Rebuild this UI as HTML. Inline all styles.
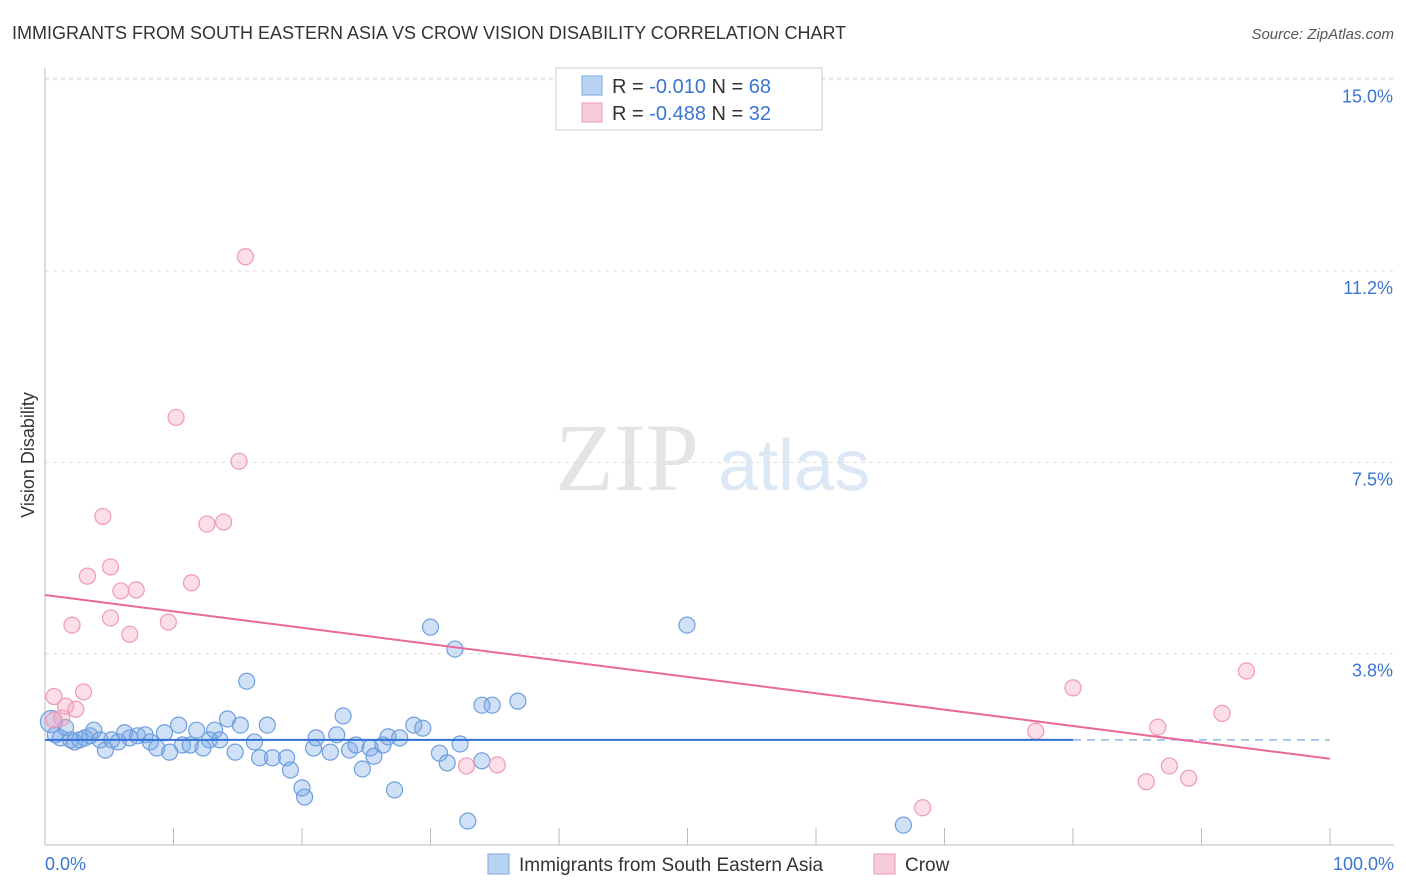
<!DOCTYPE html>
<html><head><meta charset="utf-8"><style>
body{margin:0;background:#fff;font-family:"Liberation Sans",sans-serif;}
#wrap{position:relative;width:1406px;height:892px;overflow:hidden;}
</style></head><body>
<div id="wrap">
<svg id="chart" width="1406" height="892">
<text x="12" y="39" font-size="18" fill="#333">IMMIGRANTS FROM SOUTH EASTERN ASIA VS CROW VISION DISABILITY CORRELATION CHART</text>
<text x="1394" y="39" font-size="15" fill="#555" font-style="italic" text-anchor="end">Source: ZipAtlas.com</text>
<text x="34" y="455" font-size="18" fill="#333" transform="rotate(-90 34 455)" text-anchor="middle">Vision Disability</text>
<text x="555" y="490" font-size="96" fill="#e4e4e4" font-family="Liberation Serif,serif">ZIP</text>
<text x="718" y="490" font-size="72" fill="#dce8f6">atlas</text>
<g id="grid"></g><g id="axes"></g><g id="pts"></g><g id="lines"></g>
<g>
<rect x="556" y="68" width="266" height="62" fill="#fff" stroke="#ccc"/>
<rect x="582" y="76" width="20" height="19" fill="#b9d3f3" stroke="#7aa7e0"/>
<rect x="582" y="103" width="20" height="19" fill="#f9ccdb" stroke="#ee9ab6"/>
<text x="612" y="93" font-size="20" fill="#333">R = <tspan fill="#3a75d0">-0.010</tspan>   N = <tspan fill="#3a75d0">68</tspan></text>
<text x="612" y="120" font-size="20" fill="#333">R = <tspan fill="#3a75d0">-0.488</tspan>   N = <tspan fill="#3a75d0">32</tspan></text>
</g>
<g>
<rect x="488" y="854" width="21" height="20" fill="#b9d3f3" stroke="#7aa7e0"/>
<text x="519" y="871" font-size="19" fill="#333">Immigrants from South Eastern Asia</text>
<rect x="874" y="854" width="21" height="20" fill="#f9ccdb" stroke="#ee9ab6"/>
<text x="905" y="871" font-size="19" fill="#333">Crow</text>
</g>
<text x="45" y="870" font-size="18" fill="#3a75d0">0.0%</text>
<text x="1394" y="870" font-size="18" fill="#3a75d0" text-anchor="end">100.0%</text>
</svg>
</div>
<script>
const yTicks=[15,11.25,7.5,3.75];
const yTickLabels=["15.0%","11.2%","7.5%","3.8%"];
const blueX=[0.5,0.8,1.2,1.6,2.0,2.3,2.7,3.1,3.5,3.8,4.3,4.7,5.2,5.7,6.2,6.6,7.2,7.8,8.2,8.7,9.3,9.7,10.4,10.7,11.3,11.8,12.3,12.8,13.2,13.6,14.2,14.8,15.2,15.7,16.3,16.7,17.3,17.7,18.8,19.1,20.0,20.2,20.9,21.1,22.2,22.7,23.2,23.7,24.2,24.7,25.3,25.6,26.3,26.7,27.2,27.6,28.7,29.4,30.0,30.7,31.3,31.9,32.3,32.9,34.0,34.0,34.8,36.8,49.96,66.8];
const blueY=[2.42,2.16,2.10,2.30,2.06,2.02,2.06,2.10,2.14,2.25,2.06,1.86,2.06,2.02,2.20,2.10,2.14,2.16,2.02,1.90,2.20,1.82,2.35,1.96,1.96,2.25,1.90,2.06,2.25,2.06,2.47,1.82,2.35,3.21,2.02,1.71,2.35,1.71,1.71,1.47,1.12,0.94,1.90,2.10,1.82,2.16,2.53,1.86,1.96,1.49,1.90,1.74,1.96,2.12,1.08,2.10,2.35,2.29,4.27,1.80,1.61,3.84,1.98,0.47,2.74,1.65,2.74,2.82,4.31,0.39];
const pinkX=[15.6,10.2,15.1,4.5,12.6,13.9,5.1,3.3,11.4,5.9,7.1,5.1,2.1,9.6,6.6,0.7,3.0,1.6,2.4,1.3,80.0,93.5,77.1,86.6,91.6,87.5,85.7,89.0,68.3,32.8,35.2,0.7];
const pinkY=[11.53,8.38,7.52,6.44,6.29,6.33,5.45,5.27,5.14,4.98,5.00,4.45,4.31,4.37,4.13,2.91,3.00,2.72,2.66,2.49,3.08,3.41,2.23,2.31,2.58,1.55,1.24,1.31,0.73,1.55,1.57,2.45];
const blueFit=[2.06,2.06]; const pinkFit=[4.90,1.69];
const X=v=>45+v*12.85, Y=v=>845-v*51.02;
const NS="http://www.w3.org/2000/svg";
function mk(t,a,p){const e=document.createElementNS(NS,t);for(const k in a)e.setAttribute(k,a[k]);p.appendChild(e);return e;}
const grid=document.getElementById('grid'),axes=document.getElementById('axes'),pts=document.getElementById('pts'),lines=document.getElementById('lines');
yTicks.forEach((t,i)=>{
 const l=mk('line',{x1:45,x2:1394,y1:Y(t),y2:Y(t),stroke:'#ddd','stroke-dasharray':'4,4'},grid);
 
 
 const tx=mk('text',{x:1393,y:Y(t)+23,'font-size':18,fill:'#3a75d0','text-anchor':'end'},grid);tx.textContent=yTickLabels[i];
 
 
});
const gt=mk('line',{x1:45,x2:1394,y1:78,y2:78,stroke:'#ddd','stroke-dasharray':'4,4'},grid);


const ya=mk('line',{x1:45,x2:45,y1:68,y2:845,stroke:'#bbb'},axes);


const xa=mk('line',{x1:45,x2:1394,y1:845,y2:845,stroke:'#bbb'},axes);


for(let i=0;i<=10;i++){const t=mk('line',{x1:X(i*10),x2:X(i*10),y1:828,y2:845,stroke:'#bbb'},axes);
 
 }
blueX.forEach((v,i)=>{const c=mk('circle',{cx:X(v),cy:Y(blueY[i]),r:i==0?11:8,fill:'rgba(120,165,230,0.35)',stroke:'#6e9fde','stroke-width':1.2},pts);
 
 });
pinkX.forEach((v,i)=>{const c=mk('circle',{cx:X(v),cy:Y(pinkY[i]),r:8,fill:'rgba(245,160,190,0.35)',stroke:'#ee9ab6','stroke-width':1.2},pts);
 
 });
const bl=mk('line',{x1:X(0),y1:Y(blueFit[0]),x2:X(80),y2:Y(blueFit[0]+(blueFit[1]-blueFit[0])*0.8),stroke:'#2f6fd6','stroke-width':2},lines);


const bd=mk('line',{x1:X(80),y1:Y(blueFit[0]+(blueFit[1]-blueFit[0])*0.8),x2:X(100),y2:Y(blueFit[1]),stroke:'#8fb3e6','stroke-width':1.5,'stroke-dasharray':'8,6'},lines);


const pl=mk('line',{x1:X(0),y1:Y(pinkFit[0]),x2:X(100),y2:Y(pinkFit[1]),stroke:'#e8699a','stroke-width':2},lines);


</script>
</body></html>
